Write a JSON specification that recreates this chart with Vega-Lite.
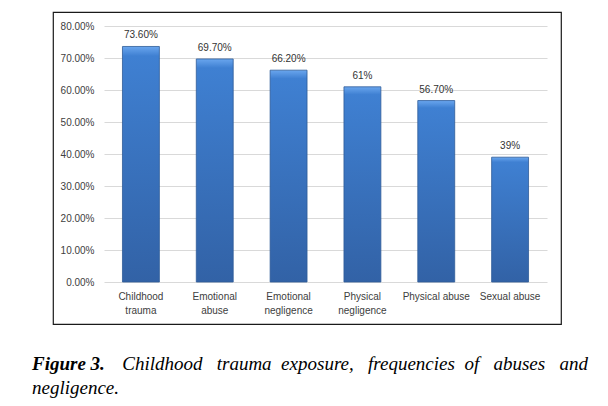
{
  "$schema": "https://vega.github.io/schema/vega-lite/v6.json",
  "width": 508,
  "height": 312,
  "autosize": {"type": "none"},
  "padding": {"left": 53, "top": 12, "right": 47, "bottom": 82},
  "background": "white",
  "config": {
    "view": {"stroke": "#1a1a1a", "strokeWidth": 1.2},
    "font": "Liberation Sans"
  },
  "data": {
    "values": [
      {"category": "Childhood trauma", "value": 0.736, "label": "73.60%"},
      {"category": "Emotional abuse", "value": 0.697, "label": "69.70%"},
      {"category": "Emotional negligence", "value": 0.662, "label": "66.20%"},
      {"category": "Physical negligence", "value": 0.61, "label": "61%"},
      {"category": "Physical abuse", "value": 0.567, "label": "56.70%"},
      {"category": "Sexual abuse", "value": 0.39, "label": "39%"}
    ]
  },
  "title": {
    "text": "Figure 3.",
    "orient": "bottom",
    "anchor": "start",
    "frame": "group",
    "baseline": "top",
    "dx": -21,
    "offset": 31,
    "font": "Liberation Serif",
    "fontSize": 19,
    "fontStyle": "italic",
    "fontWeight": "bold",
    "color": "#000000",
    "subtitle": [
      "\u200b\u00a0\u00a0\u00a0\u00a0\u00a0\u00a0\u00a0\u00a0\u00a0\u00a0\u00a0\u00a0\u00a0\u00a0\u00a0\u00a0\u00a0\u00a0\u00a0Childhood\u00a0\u00a0\u00a0trauma\u00a0\u00a0exposure,\u00a0\u00a0\u00a0frequencies\u00a0\u00a0of\u00a0\u00a0\u00a0abuses\u00a0\u00a0\u00a0and",
      "negligence."
    ],
    "subtitleFont": "Liberation Serif",
    "subtitleFontSize": 19,
    "subtitleFontStyle": "italic",
    "subtitleFontWeight": "normal",
    "subtitleColor": "#000000",
    "subtitleLineHeight": 24,
    "subtitlePadding": -19
  },
  "encoding": {
    "x": {
      "field": "category",
      "type": "nominal",
      "sort": null,
      "scale": {"range": [51, 494], "paddingInner": 0.5, "paddingOuter": 0.25},
      "axis": {
        "title": null,
        "orient": "bottom",
        "offset": -42,
        "domain": false,
        "ticks": false,
        "tickSize": 0,
        "grid": false,
        "labelAngle": 0,
        "labelPadding": 9,
        "labelBaseline": "top",
        "labelFontSize": 10,
        "labelColor": "#404040",
        "labelLineHeight": 14,
        "labelExpr": "datum.label == 'Physical abuse' || datum.label == 'Sexual abuse' ? datum.label : split(datum.label, ' ')"
      }
    },
    "y": {
      "field": "value",
      "type": "quantitative",
      "scale": {"domain": [0, 0.8], "range": [270, 14], "nice": false, "zero": true},
      "axis": {
        "title": null,
        "offset": -51,
        "values": [0, 0.1, 0.2, 0.3, 0.4, 0.5, 0.6, 0.7, 0.8],
        "format": ".2%",
        "domain": false,
        "ticks": false,
        "tickSize": 0,
        "labelPadding": 10,
        "labelFontSize": 10,
        "labelColor": "#404040",
        "grid": true,
        "gridColor": "#d9d9d9",
        "gridWidth": 1
      }
    }
  },
  "layer": [
    {
      "mark": {
        "type": "bar",
        "stroke": "#2f5c98",
        "strokeWidth": 0.8,
        "color": {
          "gradient": "linear",
          "x1": 0, "y1": 0, "x2": 0, "y2": 1,
          "stops": [
            {"offset": 0, "color": "#6aa6ee"},
            {"offset": 0.04, "color": "#3f80d2"},
            {"offset": 1, "color": "#3262a6"}
          ]
        }
      }
    },
    {
      "mark": {
        "type": "text",
        "baseline": "bottom",
        "dy": -6,
        "fontSize": 10,
        "color": "#333333"
      },
      "encoding": {"text": {"field": "label"}}
    }
  ]
}
